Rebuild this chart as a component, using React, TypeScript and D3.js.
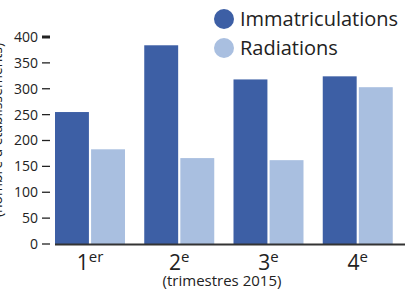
import React from "react";
import * as d3 from "d3";

const quarters = ["1", "2", "3", "4"];
const quarterSup = ["er", "e", "e", "e"];
const immatriculations = [255, 384, 318, 324];
const radiations = [183, 166, 162, 303];
const yTicks = [0, 50, 100, 150, 200, 250, 300, 350, 400];
const seriesNames = ["Immatriculations", "Radiations"];
const colors = ["#3d5fa5", "#a9bfe0"];

const W = 405, H = 290;
const FONT = "'Open Sans', 'Noto Sans', sans-serif";

export default function App() {
  const y = d3.scaleLinear().domain([0, 400]).range([244, 37]);
  const x0 = d3.scaleBand().domain(quarters).range([55, 412]).paddingInner(0).paddingOuter(0);
  const x1 = d3.scaleBand().domain(seriesNames).range([0, 70]).paddingInner(0.06);
  const series = [immatriculations, radiations];
  return (
    <svg width={W} height={H} style={{ position: "absolute", left: 0, top: 0 }} fontFamily={FONT}>
      <text transform="translate(2,130) rotate(-90)" textAnchor="middle" fontSize={14} fill="#222">(nombre d'établissements)</text>
      {yTicks.map((t) => (
        <g key={t} transform={`translate(0,${y(t)})`}>
          <line x1={42} x2={50} stroke="#222" strokeWidth={t === 400 ? 3 : 1.3} />
          <text x={38} dy="0.35em" textAnchor="end" fontSize={14} fill="#222">{t}</text>
        </g>
      ))}
      {quarters.map((q, i) => (
        <g key={q} transform={`translate(${x0(q)},0)`}>
          {series.map((s, j) => (
            <rect key={j} x={x1(seriesNames[j])} y={y(s[i])} width={x1.bandwidth()} height={y(0) - y(s[i])} fill={colors[j]} />
          ))}
        </g>
      ))}
      <line x1={55} x2={405} y1={244.5} y2={244.5} stroke="#333" strokeWidth={2} />
      {quarters.map((q, i) => (
        <text key={q} x={(x0(q) as number) + 35} y={270} textAnchor="middle" fontSize={21} fill="#222">
          {q}
          <tspan fontSize={15} dy={-8}>{quarterSup[i]}</tspan>
        </text>
      ))}
      <text x={222} y={286} textAnchor="middle" fontSize={15} fill="#222">(trimestres 2015)</text>
      {seriesNames.map((n, j) => (
        <g key={n} transform={`translate(0,${19 + j * 29})`}>
          <circle cx={224} cy={0} r={10} fill={colors[j]} />
          <text x={240} dy="0.35em" fontSize={20} fill="#222">{n}</text>
        </g>
      ))}
    </svg>
  );
}
